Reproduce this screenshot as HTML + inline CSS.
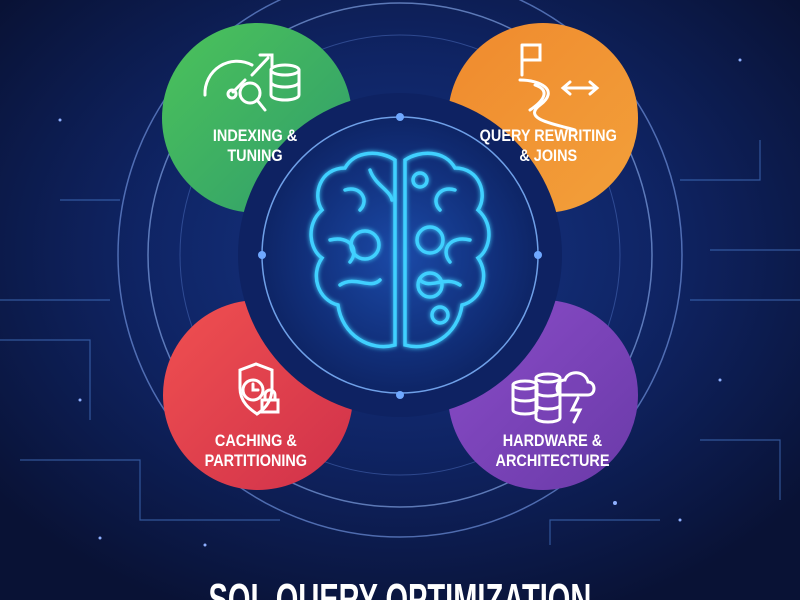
<!DOCTYPE html>
<html><head><style>
html,body{margin:0;padding:0;width:800px;height:600px;overflow:hidden;background:#0b1640}
svg{display:block}
text{font-family:"Liberation Sans",sans-serif}
</style></head><body>
<svg width="800" height="600" viewBox="0 0 800 600">
<defs>
<radialGradient id="bg" cx="50%" cy="42%" r="65%">
<stop offset="0" stop-color="#163585"/><stop offset="0.5" stop-color="#0f2464"/><stop offset="1" stop-color="#091235"/>
</radialGradient>
<radialGradient id="cen" cx="50%" cy="50%" r="50%">
<stop offset="0" stop-color="#1b4aa8"/><stop offset="0.7" stop-color="#112f7a"/><stop offset="1" stop-color="#0e2566"/>
</radialGradient>
<linearGradient id="g" x1="0" y1="0" x2="1" y2="1"><stop offset="0" stop-color="#4cc35a"/><stop offset="1" stop-color="#2f9c6c"/></linearGradient>
<linearGradient id="o" x1="0" y1="0" x2="1" y2="1"><stop offset="0" stop-color="#f08a2e"/><stop offset="1" stop-color="#f2a03a"/></linearGradient>
<linearGradient id="r" x1="0" y1="0" x2="1" y2="1"><stop offset="0" stop-color="#f05050"/><stop offset="1" stop-color="#d0314a"/></linearGradient>
<linearGradient id="p" x1="0" y1="0" x2="1" y2="1"><stop offset="0" stop-color="#8a4cc8"/><stop offset="1" stop-color="#6a3aa8"/></linearGradient>
<filter id="glow"><feGaussianBlur stdDeviation="2.5" result="b"/><feMerge><feMergeNode in="b"/><feMergeNode in="SourceGraphic"/></feMerge></filter>
</defs>
<rect width="800" height="600" fill="url(#bg)"/>
<g fill="none" stroke="#4d7fd0" stroke-width="1.2" opacity="0.6">
<path d="M0 300 H110 M0 340 H90 V420 M20 460 H140 V520 H280 M690 300 H800 M710 250 H800 M660 520 H550 V545 M700 440 H780 V500 M60 200 H120 M680 180 H760 V140"/>
</g>
<circle cx="400" cy="255" r="282" fill="none" stroke="#6c8fd8" stroke-width="1.5" opacity="0.7"/>
<circle cx="400" cy="255" r="252" fill="none" stroke="#7fa0e0" stroke-width="1.5" opacity="0.7"/>
<circle cx="400" cy="255" r="220" fill="none" stroke="#4d70c0" stroke-width="1" opacity="0.5"/>
<circle cx="257" cy="118" r="95" fill="url(#g)"/>
<circle cx="543" cy="118" r="95" fill="url(#o)"/>
<circle cx="258" cy="395" r="95" fill="url(#r)"/>
<circle cx="543" cy="395" r="95" fill="url(#p)"/>
<circle cx="400" cy="255" r="162" fill="#0e2262"/>
<circle cx="400" cy="255" r="138" fill="url(#cen)" stroke="#6fa0e8" stroke-width="1.5"/>
<circle cx="400" cy="117" r="4" fill="#6fa8ff"/><circle cx="400" cy="395" r="4" fill="#6fa8ff"/>
<circle cx="262" cy="255" r="4" fill="#6fa8ff"/><circle cx="538" cy="255" r="4" fill="#6fa8ff"/>
<g fill="none" stroke="#3fd0ff" stroke-width="3.5" filter="url(#glow)" stroke-linecap="round">
<path d="M395 160 C380 150 355 150 345 168 C320 168 312 195 322 210 C305 225 310 250 322 258 C310 275 318 300 338 305 C342 335 370 352 395 345 Z"/>
<path d="M405 160 C420 150 445 150 455 168 C480 168 488 195 478 210 C495 225 490 250 478 258 C490 275 482 300 462 305 C458 335 430 352 405 345 Z"/>
<path d="M345 190 C360 185 370 200 360 210 M330 240 C350 235 360 250 350 262 M340 285 C355 275 370 290 380 280 M370 170 C375 185 390 190 392 200"/>
<path d="M455 190 C440 185 430 200 440 210 M470 240 C450 235 440 250 450 262 M460 285 C445 275 430 290 420 280"/>
<circle cx="365" cy="245" r="14"/><circle cx="430" cy="240" r="13"/><circle cx="430" cy="285" r="12"/><circle cx="440" cy="315" r="8"/><circle cx="420" cy="180" r="7"/>
</g>
<g fill="none" stroke="#fff" stroke-width="3" stroke-linecap="round">
<path d="M205 95 A32 32 0 0 1 252 65"/><line x1="233" y1="92" x2="245" y2="80"/><circle cx="232" cy="94" r="4"/>
<path d="M252 75 L268 58 M260 55 H272 V67"/>
<circle cx="250" cy="93" r="10"/><line x1="257" y1="100" x2="265" y2="110"/>
<ellipse cx="285" cy="70" rx="14" ry="5"/><path d="M271 70 V95 A14 5 0 0 0 299 95 V70 M271 82 A14 5 0 0 0 299 82"/>
<path d="M522 45 V75 M522 45 H540 V60 H522"/><path d="M520 80 C540 80 560 90 540 105 C520 120 560 125 575 130 M535 85 C550 90 545 100 530 110"/>
<path d="M565 88 H595 M590 82 L597 88 L590 94 M570 82 L563 88 L570 94"/>
<path d="M240 370 L240 388 C240 405 255 412 257 414 C260 412 272 405 272 388 V370 L256 364 Z"/><circle cx="253" cy="390" r="10"/><path d="M253 384 V390 H258"/>
<rect x="262" y="400" width="16" height="12"/><path d="M265 400 V395 A5 5 0 0 1 275 395 V400"/>
<ellipse cx="525" cy="385" rx="12" ry="4"/><path d="M513 385 V410 A12 4 0 0 0 537 410 V385 M513 397 A12 4 0 0 0 537 397"/>
<ellipse cx="548" cy="378" rx="12" ry="4"/><path d="M536 378 V418 A12 4 0 0 0 560 418 V378 M536 392 A12 4 0 0 0 560 392 M536 405 A12 4 0 0 0 560 405"/>
<path d="M562 395 C555 395 555 380 565 380 C568 370 585 370 588 382 C596 382 596 395 588 395 Z"/><path d="M578 398 L572 410 H580 L574 422"/>
</g>
<g fill="#fff" font-size="17" text-anchor="middle" font-weight="bold">
<text x="255" y="141" transform="scale(0.85 1) translate(45 0)">INDEXING &amp;</text>
<text x="255" y="161" transform="scale(0.85 1) translate(45 0)">TUNING</text>
<text x="548" y="141" transform="scale(0.85 1) translate(97 0)">QUERY REWRITING</text>
<text x="548" y="161" transform="scale(0.85 1) translate(97 0)">&amp; JOINS</text>
<text x="256" y="446" transform="scale(0.85 1) translate(45 0)">CACHING &amp;</text>
<text x="256" y="466" transform="scale(0.85 1) translate(45 0)">PARTITIONING</text>
<text x="553" y="446" transform="scale(0.85 1) translate(97 0)">HARDWARE &amp;</text>
<text x="553" y="466" transform="scale(0.85 1) translate(97 0)">ARCHITECTURE</text>
</g>
<text x="400" y="614" fill="#fff" font-size="44" text-anchor="middle" font-weight="bold" transform="scale(0.66 1) translate(206 0)">SQL QUERY OPTIMIZATION</text>
<g fill="#8fb0ff"><circle cx="100" cy="538" r="1.5"/><circle cx="205" cy="545" r="1.5"/><circle cx="615" cy="503" r="2"/><circle cx="680" cy="520" r="1.5"/><circle cx="60" cy="120" r="1.5"/><circle cx="740" cy="60" r="1.5"/><circle cx="720" cy="380" r="1.5"/><circle cx="80" cy="400" r="1.5"/></g>
</svg>
</body></html>
